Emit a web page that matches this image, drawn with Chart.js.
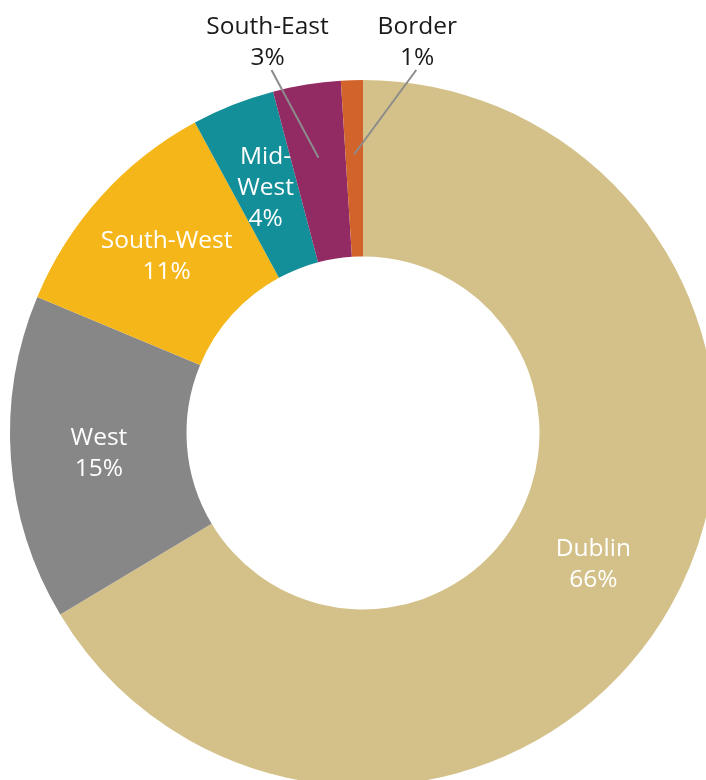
<!DOCTYPE html>
<html>
<head>
<meta charset="utf-8">
<script src="https://cdn.jsdelivr.net/npm/chart.js@4"></script>
<style>
  html, body { margin: 0; padding: 0; background: #fff; overflow: hidden; }
  #wrap { width: 726px; height: 786px; }
</style>
</head>
<body>
<div id="wrap"><canvas id="grafico" width="726" height="786"></canvas></div>
<script>
// regioes, em sentido horario a partir do topo
const regioes = ['Dublin', 'West', 'South-West', 'Mid-West', 'South-East', 'Border'];
const valores = [66.4, 14.9, 10.8, 3.8, 3.1, 1.0];
const cores = ['#D3C189', '#878787', '#F5B61A', '#138F99', '#922A63', '#D2632A'];
// texto dos rotulos (linhas)
const rotulos = [['Dublin'], ['West'], ['South-West'], ['Mid-', 'West'], ['South-East'], ['Border']];
const externos = [false, false, false, false, true, true];

const FONTE = '24.5px "Open Sans", "Noto Sans", sans-serif';
const ALTURA_LINHA = 31;

const rotulosPlugin = {
  id: 'rotulos',
  afterDatasetsDraw(chart) {
    const ctx = chart.ctx;
    const meta = chart.getDatasetMeta(0);
    ctx.save();
    ctx.font = FONTE;
    ctx.textAlign = 'center';
    ctx.textBaseline = 'middle';
    meta.data.forEach((arc, i) => {
      const linhas = rotulos[i].concat([Math.round(valores[i]) + '%']);
      const p = arc.getProps(['x', 'y', 'startAngle', 'endAngle', 'innerRadius', 'outerRadius'], true);
      const meio = (p.startAngle + p.endAngle) / 2;
      if (!externos[i]) {
        const c = arc.getCenterPoint();
        ctx.fillStyle = '#ffffff';
        const y0 = c.y + 1 - (linhas.length - 1) * ALTURA_LINHA / 2;
        linhas.forEach((l, k) => ctx.fillText(l, c.x, y0 + k * ALTURA_LINHA));
      } else {
        // linha guia ate o texto acima do grafico
        const r = p.innerRadius + (p.outerRadius - p.innerRadius) * 0.58;
        const fx = p.x + Math.cos(meio) * r;
        const fy = p.y + Math.sin(meio) * r;
        const dx = i === 4 ? -51 : 63;
        const tx = fx + dx;
        const ty = p.y - p.outerRadius - 37;
        ctx.strokeStyle = '#8C8C8C';
        ctx.lineWidth = 2;
        ctx.beginPath();
        ctx.moveTo(tx + (i === 4 ? 4 : -1), ty + 27);
        ctx.lineTo(fx, fy);
        ctx.stroke();
        ctx.fillStyle = '#1a1a1a';
        const y0 = ty - (linhas.length - 1) * ALTURA_LINHA / 2;
        linhas.forEach((l, k) => ctx.fillText(l, tx, y0 + k * ALTURA_LINHA));
      }
    });
    ctx.restore();
  }
};

const ctx = document.getElementById('grafico').getContext('2d');
const grafico = new Chart(ctx, {
  type: 'doughnut',
  data: {
    labels: regioes,
    datasets: [{
      data: valores,
      backgroundColor: cores,
      borderWidth: 0,
      hoverOffset: 0
    }]
  },
  options: {
    responsive: false,
    animation: false,
    cutout: '50%',
    layout: { padding: { top: 80, left: 10, right: 10, bottom: 0 } },
    plugins: {
      legend: { display: false },
      tooltip: { enabled: false }
    }
  },
  plugins: [rotulosPlugin]
});
</script>
</body>
</html>
